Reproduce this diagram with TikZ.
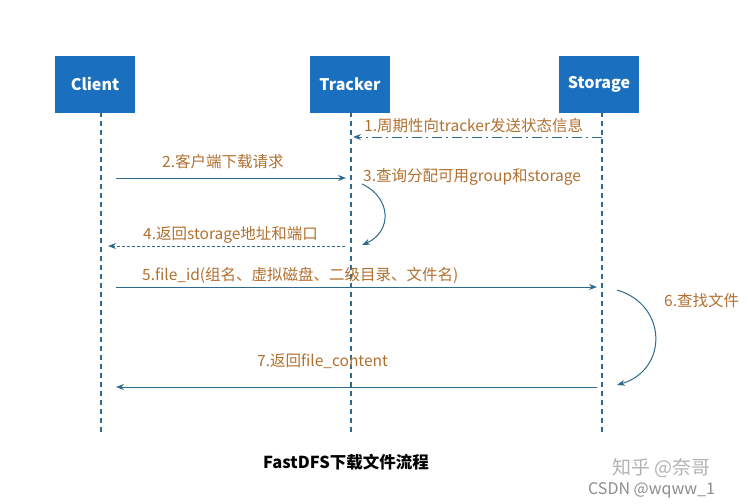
\documentclass[tikz,border=0pt]{standalone}
\usepackage{fontspec}
\setmainfont{Noto Sans CJK SC}
\usetikzlibrary{arrows.meta}
\definecolor{boxblue}{HTML}{1A6FBF}
\definecolor{lineblue}{HTML}{2D6A8C}
\definecolor{lbl}{HTML}{B0702F}
\begin{document}
\begin{tikzpicture}[x=1pt,y=-1pt,
  actor/.style={fill=boxblue,draw=none,minimum width=80pt,minimum height=57pt,text=white,font=\fontsize{16}{18}\selectfont\bfseries},
  life/.style={lineblue,line width=1.6pt,dash pattern=on 5pt off 4pt},
  msg/.style={lineblue,line width=1pt,-{Stealth[length=8pt,width=6pt]}},
  lab/.style={text=lbl,font=\fontsize{15.5}{17}\selectfont,anchor=base west,inner sep=0}]
\useasboundingbox (0,0) rectangle (748,504);
\node[actor] (c) at (95,84) {Client};
\node[actor] (t) at (350,84) {Tracker};
\node[actor] (s) at (599,84) {Storage};
\coordinate (ce) at (101,432);
\coordinate (te) at (351,432);
\coordinate (se) at (602,432);
\draw[life] (101,112) -- (ce);
\draw[life] (351,112) -- (te);
\draw[life] (602,112) -- (se);
% 1
\coordinate (s1) at (602,137); \coordinate (t1) at (353,137);
\draw[msg,dash pattern=on 10pt off 4pt on 2pt off 4pt] (s1) -- (t1);
\node[lab] (l1) at (364,131) {1.周期性向tracker发送状态信息};
% 2
\coordinate (c2) at (116,178); \coordinate (t2) at (346,178);
\draw[msg] (c2) -- (t2);
\node[lab] (l2) at (162,167) {2.客户端下载请求};
% 3
\node[lab] (l3) at (363,181) {3.查询分配可用group和storage};
\coordinate (a3) at (362,184); \coordinate (b3) at (362,245);
\draw[msg] (a3) .. controls (392,198) and (392,232) .. (b3);
% 4
\coordinate (t4) at (345,246); \coordinate (c4) at (108,246);
\draw[msg,dash pattern=on 3pt off 2pt] (t4) -- (c4);
\node[lab] (l4) at (143,239) {4.返回storage地址和端口};
% 5
\coordinate (c5) at (116,287); \coordinate (s5) at (597,287);
\draw[msg] (c5) -- (s5);
\node[lab] (l5) at (142,280) {5.file\_id(组名、虚拟磁盘、二级目录、文件名)};
% 6
\coordinate (a6) at (617,290); \coordinate (b6) at (617,385);
\draw[msg] (a6) .. controls (668,305) and (668,370) .. (b6);
\node[lab] (l6) at (664,306) {6.查找文件};
% 7
\coordinate (s7) at (597,387); \coordinate (c7) at (116,387);
\draw[msg] (s7) -- (c7);
\node[lab] (l7) at (257,366) {7.返回file\_content};
\node[font=\fontsize{16.5}{18}\selectfont\bfseries] (cap) at (346,462) {FastDFS下载文件流程};
\node[text=black!30,font=\fontsize{19}{21}\selectfont,anchor=base west,inner sep=0] (w1) at (612,474) {知乎 @奈哥};
\node[text=black!45,font=\fontsize{16}{18}\selectfont,anchor=base west,inner sep=0] (w2) at (588,494) {CSDN @wqww\_1};
\end{tikzpicture}
\end{document}
